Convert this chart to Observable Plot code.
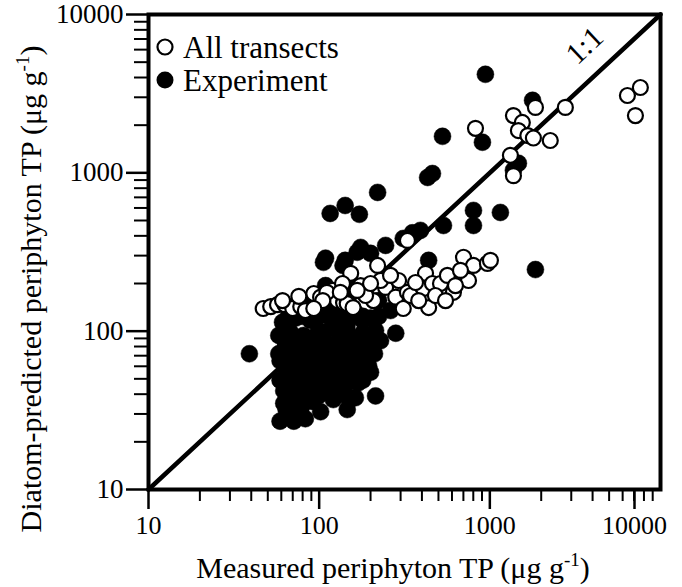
<!DOCTYPE html>
<html><head><meta charset="utf-8">
<script src="https://cdn.jsdelivr.net/npm/d3@7"></script>
<script src="https://cdn.jsdelivr.net/npm/@observablehq/plot@0.6"></script>
<style>
body{margin:0;background:#fff}
svg, svg text{font-family:"Liberation Serif","Times New Roman",serif}
</style>
</head><body><div id="chart"></div>
<script>
// Measured TP (x) and diatom-predicted TP (y), µg/g
const transectsX = [47,52,57,63,70,78,83,93,102,120,128,139,146,158,153,137,111,105,208,220,245,281,311,329,343,409,420,438,461,514,564,612,701,750,802,968,1008,329,175,187,229,292,367,629,480,262,200,167,93,76,61,133,383,550,673,
  824,1320,1375,1375,1550,1470,1670,1800,2260,1850,2770,6400,7620,7130];
const transectsY = [139,143,147,147,139,143,135,173,164,181,156,151,149,141,232,200,176,156,156,260,189,164,139,176,168,186,232,141,200,200,225,176,293,209,260,268,280,374,194,168,209,209,203,194,168,225,200,181,139,166,156,176,156,156,242,
  1910,1290,960,2300,2080,1850,1720,1660,1600,2590,2590,3080,3460,2300];
const experimentX = [942,1780,528,905,1375,1470,432,461,220,142,116,172,802,802,1153,535,392,1850,311,352,175,200,245,109,142,167,438,106,138,281,262,180,39,
  61,73,89,109,133,163,200,58,68,81,99,120,146,180,214,63,76,91,111,133,156,192,59,71,84,102,123,148,175,65,78,94,114,137,165,200,169,163,62,74,89,108,130,146,62,75,91,121,102,59,71,83,
  78,95,116,142,187,223,153,109,68,146,
  66,80,99,121,180,223, 63,74,89,108,130,156,190,229, 58,69,82,99,120,144,175,211,
  63,76,91,111,133,160,195, 59,70,84,102,123,148,180, 68,82,99,144,214, 64,78,146];
const experimentY = [4190,2870,1700,1560,1040,1150,935,990,752,622,554,547,579,465,562,465,433,245,385,418,338,310,348,289,280,315,280,272,260,97,135,117,72,
  114,121,117,126,131,131,121,94,98,94,101,105,101,97,101,78,81,78,81,84,78,81,65,63,67,63,65,68,61,53,55,52,54,57,58,55,47,38,42,44,41,44,42,47,35,34,36,37,31,27,27,28,
  156,145,156,168,181,156,194,194,135,111,
  124,124,124,124,124,124, 87,87,87,87,87,87,87,87, 72,72,72,72,72,72,72,72,
  60,60,60,60,60,60,60, 49,49,49,49,49,49,49, 39,39,39,39,39, 32,32,32];
const majorTicks = [10, 100, 1000, 10000];
const minorTicks = [20,30,40,50,60,70,80,90,200,300,400,500,600,700,800,900,2000,3000,4000,5000,6000,7000,8000,9000];
const oneToOne = [10, 10000];
const legendLabels = ["All transects", "Experiment"];

const transects = transectsX.map((x, i) => ({x, y: transectsY[i]}));
const experiment = experimentX.map((x, i) => ({x, y: experimentY[i]}));
const lineData = oneToOne.map(v => ({x: v, y: v}));

const fontFamily = '"Liberation Serif","Times New Roman",serif';
const chart = Plot.plot({
  width: 682, height: 587,
  marginLeft: 148, marginRight: 22, marginTop: 14, marginBottom: 98,
  style: {fontFamily, background: "white", overflow: "visible"},
  x: {type: "log", domain: [10, 10000]},
  y: {type: "log", domain: [10, 10000]},
  marks: [
    Plot.line(lineData, {x: "x", y: "y", stroke: "black", strokeWidth: 4.5}),
    Plot.dot(experiment, {x: "x", y: "y", r: 8.5, fill: "black", stroke: "black", strokeWidth: 0.5}),
    Plot.dot(transects, {x: "x", y: "y", r: 7.5, fill: "white", stroke: "black", strokeWidth: 2.2}),
    Plot.frame({stroke: "black", strokeWidth: 4}),
    Plot.axisX(minorTicks, {tickSize: 12, strokeWidth: 2, tickFormat: () => "", label: null}),
    Plot.axisX(majorTicks.slice(0, 3), {tickSize: 20, strokeWidth: 2.5, tickPadding: 6, fontSize: 26, tickFormat: d => String(d), label: null}),
    Plot.axisX(majorTicks.slice(3), {tickSize: 20, strokeWidth: 2.5, tickPadding: 6, fontSize: 26, dx: -26, tickFormat: d => String(d), label: null}),
    Plot.axisY(minorTicks, {tickSize: 14, strokeWidth: 2, tickFormat: () => "", label: null}),
    Plot.axisY(majorTicks, {tickSize: 22, strokeWidth: 2.5, tickPadding: 3, fontSize: 27, tickFormat: d => String(d), label: null})
  ]
});
document.getElementById("chart").appendChild(chart);

const svg = d3.select(chart);
// axis titles
const xt = svg.append("text").attr("x", 393).attr("y", 578).attr("text-anchor", "middle")
  .attr("font-family", fontFamily).attr("font-size", 30).attr("fill", "black");
xt.append("tspan").text("Measured periphyton TP (μg g");
xt.append("tspan").attr("dy", -12).attr("font-size", 19).text("-1");
xt.append("tspan").attr("dy", 12).text(")");

const yt = svg.append("text").attr("transform", "translate(41,289) rotate(-90)").attr("text-anchor", "middle")
  .attr("font-family", fontFamily).attr("font-size", 30).attr("fill", "black");
yt.append("tspan").text("Diatom-predicted periphyton TP (μg g");
yt.append("tspan").attr("dy", -12).attr("font-size", 19).text("-1");
yt.append("tspan").attr("dy", 12).text(")");

// legend
const lg = svg.append("g").attr("font-family", fontFamily).attr("font-size", 31).attr("text-anchor", "start");
lg.append("circle").attr("cx", 165).attr("cy", 47).attr("r", 7.5).attr("fill", "white").attr("stroke", "black").attr("stroke-width", 2.2);
lg.append("text").attr("x", 183).attr("y", 47).attr("dy", "0.35em").text(legendLabels[0]);
lg.append("circle").attr("cx", 165).attr("cy", 80).attr("r", 8.5).attr("fill", "black");
lg.append("text").attr("x", 183).attr("y", 80).attr("dy", "0.35em").text(legendLabels[1]);

// 1:1 label
svg.append("text").attr("transform", "translate(584,45) rotate(-43)").attr("text-anchor", "middle")
  .attr("font-family", fontFamily).attr("font-size", 30).attr("dy", "0.35em").text("1:1");
</script>
</body></html>
